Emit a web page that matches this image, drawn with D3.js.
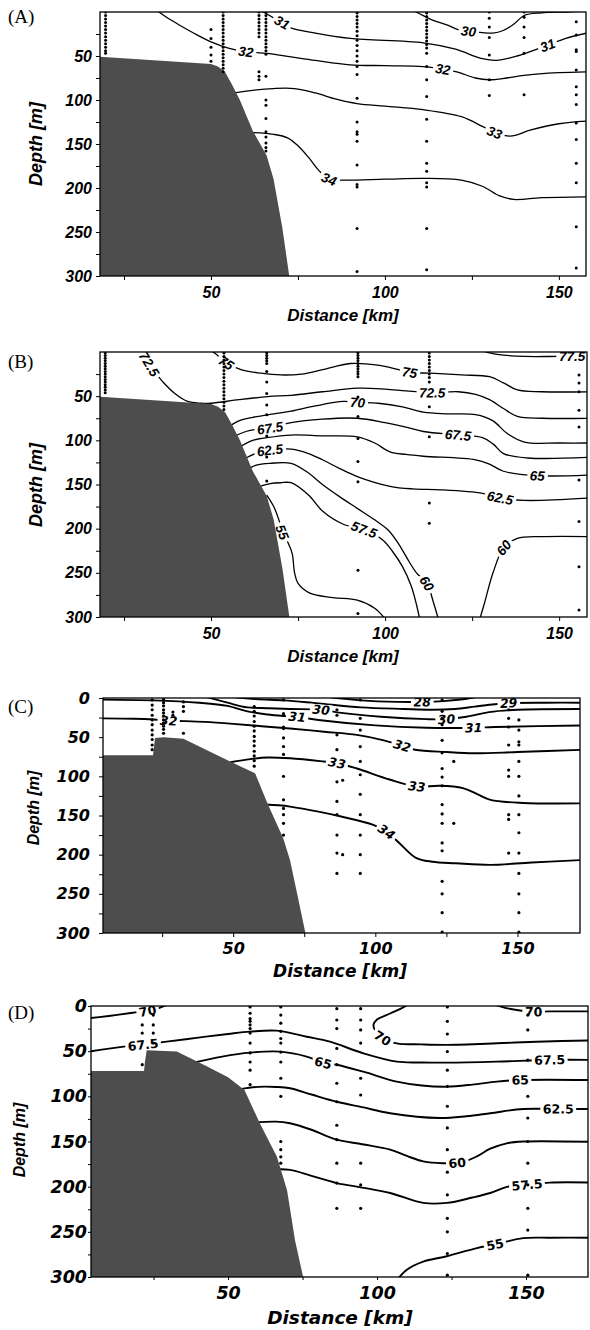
<!DOCTYPE html>
<html>
<head>
<meta charset="utf-8">
<script src="https://cdn.jsdelivr.net/npm/d3@7"></script>
<style>
body { margin: 0; background: #fff; }
svg { display: block; }
</style>
</head>
<body>
<svg id="fig" width="590" height="1330"></svg>
<script>
// depth ticks and distance ticks
var depthMajorAB = [50, 100, 150, 200, 250, 300];
var depthMajorCD = [0, 50, 100, 150, 200, 250, 300];
var depthMinor = [25, 75, 125, 175, 225, 275];
var distMajor = [50, 100, 150];
var distMinor = [25, 75, 125];

// shelf outlines [km, depth]
var shelfAB = [[15,50],[50,59],[52,62],[54,68],[56,82],[58.3,100],[62,135],[66,163],[68,190],[70.5,245],[72.5,300]];
var shelfC = [[2,73],[21.8,73],[22.5,51],[25.5,50],[32.5,52],[50,83],[57.7,96],[62,134],[67.6,179],[70,207],[72.5,250],[75.4,300]];
var shelfD = [[2,72],[21.8,72],[22.1,62],[22.7,49],[32.8,50.5],[43,67],[50,79],[55.5,93],[60.7,130],[66.4,167],[69.8,204],[72.5,260],[75.2,300]];

// sample stations [km, depths]
var stationsA = [
  [19.7, [0,4,8,12,16,20,24,28,32,36,40,44,47]],
  [50, [20,30,40,49,56]],
  [53.5, [0,4,8,12,16,20,24,28,32,36,40,44,48,52,56,60,64,68]],
  [63.8, [0,4,8,12,16,20,24,28,68,73,77]],
  [65.8, [0,4,8,12,16,20,24,28,32,36,40,44,48,73,100,106,121,136,142,149,154,158]],
  [92, [1,5,9,13,17,22,27,32,38,44,50,56,62,71,98,125,136,139,147,174,196,199,246,295]],
  [112, [1,5,9,13,17,21,25,29,33,37,41,47,62,77,96,122,147,172,181,194,199,246,293]],
  [130, [0,7,17,29,49,77,95]],
  [140, [0,6,17,29,47,94]],
  [155, [11,26,43,45,66,85,94,105,126,145,172,194,244,291]]
];
var stationsB = [
  [19.6, [1,4,7,10,13,16,19,22,25,28,31,34,37,40,43,46]],
  [53.7, [1,5,9,13,17,21,25,29,33,37,41,45,49,53,57,61,65]],
  [66, [1,4,7,10,13,22,34,47,60,71,95,119,146]],
  [92.2, [1,4,7,10,13,16,19,22,25,28,51,73,98,124,147,247,296]],
  [112.7, [1,5,9,13,17,21,25,29,34,62,96,171,194]],
  [155.7, [26,35,45,66,85,145,192,243,292]]
];
var stationsC = [
  [21.5, [2.5,9,15,22,28,34,41,47,53,60,66]],
  [25.5, [2,6,10,15,19,23,28,32,36,40,45]],
  [28.8, [18,22]],
  [32.5, [5,11,17,45]],
  [57.4, [11,17,23,30,36,42,49,55,61,68,74,80,87]],
  [67.7, [2.5,20,37,39,51,62,72,100,130,141,149,160,175]],
  [86.5, [15,22,47,66,107,132,149,175,198,224]],
  [88.5, [105,200]],
  [94.7, [2.5,26,41,62,81,98,123,149,175,200,224]],
  [123.5, [2.5,17,26,34,54,70,90,101,112,136,148,160,185,195,234,250,274,299]],
  [127.6, [81,160]],
  [146.9, [15,26,37,60,92,100,149,155,198]],
  [150.5, [28,41,56,60,81,100,125,149,172,198,224,250,274,299]]
];
var stationsD = [
  [21.2, [21,30,65]],
  [24.9, [10,21,30,41]],
  [57.4, [1,8,14,17,21,25,30,41,52,62,71,87]],
  [67.7, [1,10,19,28,36,41,51,62,80,100,150,159,167,174]],
  [86.5, [3,15.5,25,47,65,85.5,106,132,148,174,196,224]],
  [94.5, [3,15.5,26.5,41,80,98.5,174,198,224]],
  [123.6, [1,17,31,50.5,71,89,111,135,159,184,209,235,250,274,298]],
  [150.6, [10,26.5,60,100,124,150,174,198,224,248,298]]
];

// isolines: value, points [km, depth], label anchors [km, depth]
var isoA = [
  {v: '30', pts: [[108,-2],[110,2],[113,8],[118,15],[121,20],[124.5,22],[128,23.5],[131,24],[134,21],[137,14],[140,4],[145,1],[152,0],[158,-1]], labels: [[124,22]]},
  {v: '31', pts: [[64,-2],[66,2],[68.5,8],[71,13],[73,18],[80,24],[90,30],[111,35],[120,42],[128,53],[132,55],[138,50],[146.6,38],[152,30],[158,24]], labels: [[70.5,12],[146.6,37]]},
  {v: '32', pts: [[34,-2],[35,0],[38,8],[41,15],[46,26],[50,34],[55,41],[60,45],[66,47],[73,51],[80,55],[90,60],[100,61],[111,62],[116.7,65],[120.7,68],[126,75],[130,77],[135,75],[140,72],[150,69],[158,68]], labels: [[60,45],[116.7,65]]},
  {v: '33', pts: [[55,93],[62,89],[68,87],[74,87],[80,92],[86,99],[92,104],[100,107],[111,111],[122,119],[128,130],[131.6,137],[136,141],[142,134],[150,127],[158,124]], labels: [[131.6,137]]},
  {v: '34', pts: [[62,137],[68,139],[72,143],[75,152],[78,165],[81,180],[84,190],[88,191],[100,190],[111,189],[122,191],[128,198],[133,209],[137,213],[145,211],[158,210]], labels: [[84,190]]}
];
var isoB = [
  {v: '77.5', pts: [[127,-3],[130,1],[134,3.5],[140,5],[150,5],[160,5]], labels: [[153.8,5]]},
  {v: '75', pts: [[49,-3],[51,1],[54.3,12],[58.6,20],[64.4,24],[70,26],[76,25],[82,20],[90,13],[96,14],[101,17],[107,23],[113,24],[122,26],[130,28],[134,35],[138,43],[145,45],[160,45]], labels: [[54.3,12],[107,23]]},
  {v: '72.5', pts: [[29,-3],[31,5],[32.3,14],[34.5,26],[36.1,33.6],[39.5,46.7],[43.3,56],[47,58],[50,58],[58,54],[66.3,50.5],[73,49],[82,45],[92,41],[100,42],[106,44],[113.5,46],[121,45],[126,48],[130,54],[134,64],[138,73],[145,75],[160,75]], labels: [[32.3,14],[113.5,46]]},
  {v: '70', pts: [[55,85],[58,78],[62,74],[68,70],[73,67],[80,61],[88,56],[92,57],[98,58],[105,62],[111,68],[118,70],[126,71],[131,78],[135,92],[140,102],[150,103],[160,103]], labels: [[92,57]]},
  {v: '67.5', pts: [[56,97],[60,90],[64,87],[67,86],[73,80],[82,76],[92,75],[100,80],[106,85],[111,90],[121,94],[128,97],[131,104],[134,115],[141,120],[160,119]], labels: [[67,86],[121,94]]},
  {v: '65', pts: [[58,108],[62,100],[66,97],[73,94],[82,95],[92,96],[97,103],[101.4,113],[106,116],[111,118],[126,122],[130,127],[134,135],[143.7,140],[160,139]], labels: [[143.7,140]]},
  {v: '62.5', pts: [[60,120],[64,113],[67,111],[70,110],[73,110],[78,115],[82,122],[87,132],[92,141],[101.4,152],[108,155],[116,156],[128,160],[133,165],[140,168],[160,165]], labels: [[67,111],[133,165]]},
  {v: '60', pts: [[61,132],[63,128],[67,126],[73,126],[78,137],[82,150],[87,164],[92,177],[97,190],[101,202],[104,218],[107,238],[109,250],[112,262],[114,285],[115.5,305]], labels: [[112,262]]},
  {v: '57.5', pts: [[64,152],[67,149],[70,148],[73,148],[78,162],[82,180],[88,195],[94,201],[99.4,213],[102,225],[105,243],[107.5,265],[109.6,296],[110,305]], labels: [[94,201]]},
  {v: '55', pts: [[66,162],[68,175],[69.5,190],[70.5,204],[72,215],[73.3,228],[74,250],[75,262],[78.4,273],[85,278],[92,281],[97,290],[100,302]], labels: [[70.5,204]]},
  {v: '60', pts: [[127,305],[128.5,285],[131,250],[134,222],[138,211],[145,209],[160,209]], labels: [[134.3,222]]}
];
var isoC = [
  {v: '28', pts: [[82,-2],[95,3],[108,5],[116.5,5],[124,4],[130,2],[135,-1]], labels: [[116.5,5]]},
  {v: '29', pts: [[48,-2],[58,1.5],[68,3],[80,7],[95,12],[110,14],[120,15],[128,14],[135,11],[142,8],[147,6.5],[160,6],[174,6]], labels: [[147,6.5]]},
  {v: '30', pts: [[40,-2],[48,6],[55,12],[62,13],[70,14],[81,15],[88,19],[102,24],[118,27],[125,27],[132,24],[140,18],[150,15],[174,14]], labels: [[81,15],[125,27]]},
  {v: '31', pts: [[2,2],[22,3],[38,6],[48,10],[55,17],[62,21],[68,23],[72.5,24],[80,28],[100,35],[118,38],[134.6,38],[142,37],[174,35]], labels: [[72.5,24],[134.6,38]]},
  {v: '32', pts: [[2,26],[15,26.5],[22,27.5],[27.3,29],[33,29.5],[40,30.5],[50,33],[60,36],[70,39],[82,43],[93.5,47],[103,54],[109.4,61],[114,66],[125,69],[135,70.6],[150,69],[174,66]], labels: [[27.3,29],[109.4,61]]},
  {v: '33', pts: [[49,82],[56,78],[62,76],[70,77],[81.8,81],[86.5,83],[93.5,90],[105,104],[114.6,113],[122.6,112],[130.8,115],[136,123],[140.5,130],[152,134],[174,134.5]], labels: [[86.5,83],[114.6,113]]},
  {v: '34', pts: [[61,136],[66,137],[70,138.6],[80,145],[87.6,151],[99.3,162],[104,171],[108.4,185],[114.3,204],[120,209],[128.4,211],[140.5,213],[155,210],[174,206.6]], labels: [[104,171]]}
];
var isoD = [
  {v: '70', pts: [[2,14],[10,11],[18,7.5],[23,5.5],[27,2],[30,-2]], labels: [[23,5.5]]},
  {v: '67.5', pts: [[2,51],[15,45],[21.6,43],[29.4,39.5],[40,35],[50,31],[57.4,28.4],[66.3,27.3],[76.4,34],[84.2,39.5],[95.4,52.4],[106.6,61.6],[115,62.5],[123.4,62.7],[140.2,61.6],[158,59.7],[173,59.7]], labels: [[21.6,43],[158,59.7]]},
  {v: '65', pts: [[38,63],[48,56],[57.4,51.6],[67.4,50.5],[76.4,56],[82,63],[86.4,65],[95.4,72.7],[106.6,83.7],[115,88],[123.4,89.3],[132,87],[140.2,83.7],[148,82],[173,82]], labels: [[82,62],[148,82]]},
  {v: '62.5', pts: [[54,92],[60,89.5],[66.3,89.6],[70.8,91],[78,98],[86.5,106],[95,112],[104.4,118.7],[121,124],[130,122],[138,118.7],[149,114],[160.9,114],[173,114]], labels: [[160.9,114]]},
  {v: '60', pts: [[59,129],[66,128],[70.8,129.8],[78,137],[86.5,148],[95,153],[104.4,159],[110,166],[115.5,172],[122,174],[128.4,173],[133.5,166.5],[138,158],[143.5,152],[149,150],[173,150.5]], labels: [[127,174]]},
  {v: '57.5', pts: [[65,181],[70.8,181.4],[78,188],[86.5,196],[95,201],[104.4,207],[115.5,218],[123.4,218],[132,212],[138,207],[144,200],[150.2,198],[158,195.5],[173,195.5]], labels: [[150.2,197]]},
  {v: '55', pts: [[106.5,304],[110,292],[115.5,283],[123.4,277],[133.5,268],[139.6,264],[149,257],[158,256.5],[173,256.5]], labels: [[139.6,264]]},
  {v: '70', pts: [[111,-3],[108,3],[104.4,8.3],[100,15],[98.8,21],[99.5,28],[102,36],[106.6,41.3],[115,42.5],[123.4,43],[140.2,41.3],[153.6,39.5],[173,38]], labels: [[102,35]]},
  {v: '70', pts: [[138,-3],[143,2],[148,5],[152.4,6.3],[158,6],[173,6]], labels: [[152.4,6]]}
];

var styleAB = {
  tickFont: '"Liberation Sans", Arial, sans-serif', tickSize: 16, tickStyle: 'italic',
  yTitleFont: '"Liberation Sans", Arial, sans-serif', yTitleSize: 18,
  xTitleFont: '"Liberation Sans", Arial, sans-serif', xTitleSize: 17, titleStyle: 'italic',
  labFont: '"Liberation Sans", Arial, sans-serif', labSize: 13.5, labStyle: 'italic',
  lineW: 1.3, dotR: 1.5, xPad: 7, yPad: 4, tick: 4
};
var styleC = {
  tickFont: '"DejaVu Sans", sans-serif', tickSize: 16, tickStyle: 'oblique',
  yTitleFont: '"Liberation Sans", Arial, sans-serif', yTitleSize: 16,
  xTitleFont: '"DejaVu Sans", sans-serif', xTitleSize: 17, titleStyle: 'italic',
  labFont: '"DejaVu Sans", sans-serif', labSize: 12.5, labStyle: 'oblique',
  lineW: 1.9, dotR: 1.6, xPad: 6, yPad: 9, tick: 4
};
var styleD = {
  tickFont: '"DejaVu Sans", sans-serif', tickSize: 17.5, tickStyle: 'oblique',
  yTitleFont: '"Liberation Sans", Arial, sans-serif', yTitleSize: 16,
  xTitleFont: '"DejaVu Sans", sans-serif', xTitleSize: 18.5, titleStyle: 'italic',
  labFont: '"DejaVu Sans", sans-serif', labSize: 12.5, labStyle: 'normal',
  lineW: 1.9, dotR: 1.6, xPad: 7, yPad: 1, tick: 3
};

var panels = [
  {name: 'A', letter: '(A)', letterY: 23, box: {left: 100, right: 586, top: 12, bottom: 276}, xDomain: [18.1, 157.8],
   iso: isoA, shelf: shelfAB, stations: stationsA, yMajor: depthMajorAB, style: styleAB,
   yTitle: [36, 144], xTitle: [343, 315]},
  {name: 'B', letter: '(B)', letterY: 368, box: {left: 100, right: 587, top: 352, bottom: 617}, xDomain: [18.1, 158],
   iso: isoB, shelf: shelfAB, stations: stationsB, yMajor: depthMajorAB, style: styleAB,
   yTitle: [36, 485], xTitle: [343, 656]},
  {name: 'C', letter: '(C)', letterY: 713, box: {left: 103, right: 580, top: 698, bottom: 933}, xDomain: [4.2, 172],
   iso: isoC, shelf: shelfC, stations: stationsC, yMajor: depthMajorCD, style: styleC,
   yTitle: [33, 808], xTitle: [340, 971]},
  {name: 'D', letter: '(D)', letterY: 1019, box: {left: 91, right: 588, top: 1006, bottom: 1277}, xDomain: [4, 170.8],
   iso: isoD, shelf: shelfD, stations: stationsD, yMajor: depthMajorCD, style: styleD,
   yTitle: [19, 1140], xTitle: [340, 1318]}
];

var svg = d3.select('#fig');
var defs = svg.append('defs');

// nearest point on a path to (tx,ty), plus the local direction
function pointOnPath(node, tx, ty){
  var L = node.getTotalLength();
  var best = 0, bd = Infinity;
  for (var s = 0; s <= L; s += 0.75) {
    var p = node.getPointAtLength(s);
    var d = (p.x - tx) * (p.x - tx) + (p.y - ty) * (p.y - ty);
    if (d < bd) { bd = d; best = s; }
  }
  var c = node.getPointAtLength(best);
  var p0 = node.getPointAtLength(Math.max(0, best - 5));
  var p1 = node.getPointAtLength(Math.min(L, best + 5));
  var a = Math.atan2(p1.y - p0.y, p1.x - p0.x) * 180 / Math.PI;
  if (a > 90) a -= 180;
  if (a < -90) a += 180;
  return {x: c.x, y: c.y, angle: a};
}

function drawPanel(p){
  var st = p.style, b = p.box;
  var x = d3.scaleLinear().domain(p.xDomain).range([b.left, b.right]);
  var y = d3.scaleLinear().domain([0, 300]).range([b.top, b.bottom]);

  defs.append('clipPath').attr('id', 'clip' + p.name)
    .append('rect')
      .attr('x', b.left).attr('y', b.top)
      .attr('width', b.right - b.left).attr('height', b.bottom - b.top);

  var g = svg.append('g').attr('class', 'panel-' + p.name);
  var plot = g.append('g').attr('clip-path', 'url(#clip' + p.name + ')');

  var line = d3.line()
    .x(function(d){ return x(d[0]); })
    .y(function(d){ return y(d[1]); })
    .curve(d3.curveCatmullRom.alpha(0.5));

  var paths = plot.append('g').selectAll('path')
    .data(p.iso)
    .enter().append('path')
      .attr('d', function(d){ return line(d.pts); })
      .attr('fill', 'none')
      .attr('stroke', '#000')
      .attr('stroke-width', st.lineW);

  // contour labels sit on the line with a white box that breaks it
  var labG = plot.append('g');
  p.iso.forEach(function(c, i){
    var node = paths.nodes()[i];
    c.labels.forEach(function(l){
      var pos = pointOnPath(node, x(l[0]), y(l[1]));
      var lg = labG.append('g')
        .attr('transform', 'translate(' + pos.x + ',' + pos.y + ') rotate(' + pos.angle + ')');
      var rect = lg.append('rect').attr('fill', '#fff');
      var t = lg.append('text')
        .attr('text-anchor', 'middle')
        .attr('dy', '0.36em')
        .attr('font-family', st.labFont)
        .attr('font-size', st.labSize)
        .attr('font-weight', 'bold')
        .attr('font-style', st.labStyle)
        .text(c.v);
      var bb = t.node().getBBox();
      rect.attr('x', bb.x - 2.5).attr('y', -st.labSize * 0.42)
        .attr('width', bb.width + 5).attr('height', st.labSize * 0.84);
    });
  });

  var shelfPts = p.shelf.concat([[p.shelf[p.shelf.length - 1][0], 310], [p.shelf[0][0], 310]]);
  plot.append('path')
    .attr('d', d3.line().x(function(d){ return x(d[0]); }).y(function(d){ return y(d[1]); })(shelfPts) + 'Z')
    .attr('fill', '#4d4d4d')
    .attr('stroke', 'none');

  var dots = [];
  p.stations.forEach(function(s){
    s[1].forEach(function(dep){ dots.push([s[0], dep]); });
  });
  plot.append('g').selectAll('circle')
    .data(dots)
    .enter().append('circle')
      .attr('cx', function(d){ return x(d[0]); })
      .attr('cy', function(d){ return y(d[1]); })
      .attr('r', st.dotR)
      .attr('fill', '#000');

  function styleTicks(sel){
    sel.select('.domain').remove();
    sel.selectAll('.tick line').attr('stroke', '#000').attr('stroke-width', 1);
    sel.selectAll('text')
      .attr('font-family', st.tickFont)
      .attr('font-size', st.tickSize)
      .attr('font-weight', 'bold')
      .attr('font-style', st.tickStyle)
      .attr('fill', '#000');
  }

  // Y ticks
  g.append('g')
    .attr('transform', 'translate(' + b.left + ',0)')
    .call(d3.axisLeft(y).tickValues(p.yMajor).tickSize(st.tick).tickPadding(st.yPad).tickFormat(d3.format('d')))
    .call(styleTicks);
  g.append('g')
    .attr('transform', 'translate(' + b.left + ',0)')
    .call(d3.axisLeft(y).tickValues(depthMinor).tickSize(st.tick).tickFormat(''))
    .call(styleTicks);

  // X ticks
  g.append('g')
    .attr('transform', 'translate(0,' + b.bottom + ')')
    .call(d3.axisBottom(x).tickValues(distMajor).tickSize(st.tick).tickPadding(st.xPad).tickFormat(d3.format('d')))
    .call(styleTicks);
  g.append('g')
    .attr('transform', 'translate(0,' + b.bottom + ')')
    .call(d3.axisBottom(x).tickValues(distMinor).tickSize(st.tick).tickFormat(''))
    .call(styleTicks);

  g.append('rect')
    .attr('x', b.left).attr('y', b.top)
    .attr('width', b.right - b.left).attr('height', b.bottom - b.top)
    .attr('fill', 'none')
    .attr('stroke', '#000')
    .attr('stroke-width', 1.3);

  g.append('text')
    .attr('transform', 'translate(' + p.yTitle[0] + ',' + p.yTitle[1] + ') rotate(-90)')
    .attr('text-anchor', 'middle')
    .attr('dy', '0.35em')
    .attr('font-family', st.yTitleFont)
    .attr('font-size', st.yTitleSize)
    .attr('font-weight', 'bold')
    .attr('font-style', 'italic')
    .text('Depth [m]');

  g.append('text')
    .attr('x', p.xTitle[0]).attr('y', p.xTitle[1])
    .attr('text-anchor', 'middle')
    .attr('dy', '0.35em')
    .attr('font-family', st.xTitleFont)
    .attr('font-size', st.xTitleSize)
    .attr('font-weight', 'bold')
    .attr('font-style', st.titleStyle)
    .text('Distance [km]');

  g.append('text')
    .attr('x', 8).attr('y', p.letterY)
    .attr('font-family', '"Liberation Serif", "Times New Roman", serif')
    .attr('font-size', 19)
    .text(p.letter);
}

panels.forEach(drawPanel);
</script>
</body>
</html>
